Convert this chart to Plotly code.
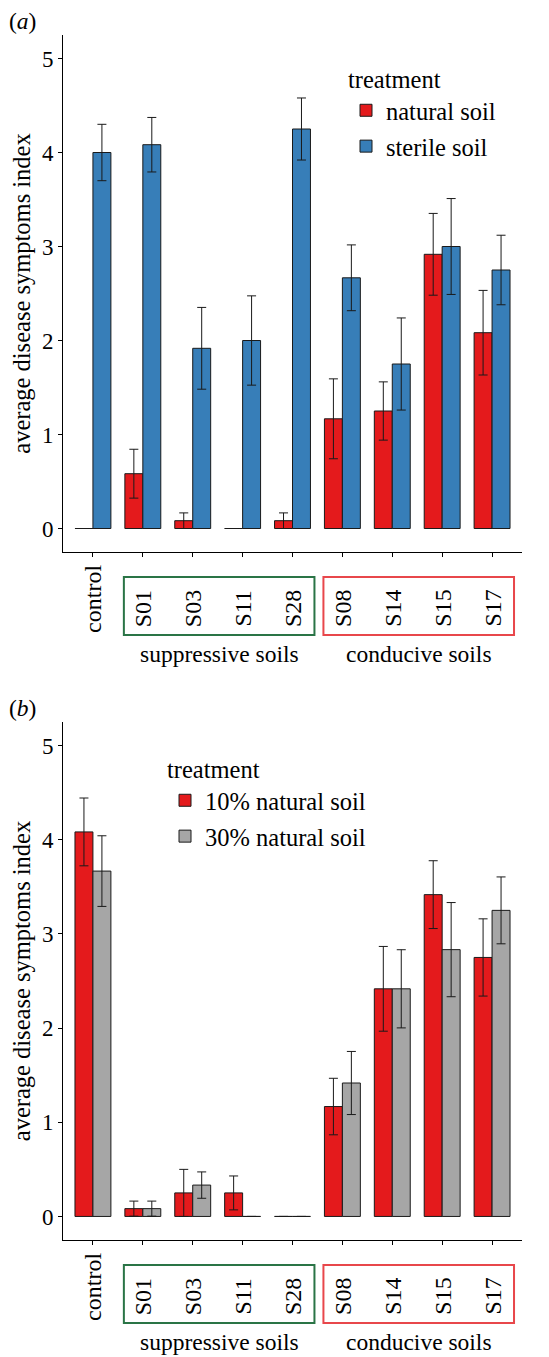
import plotly.graph_objects as go

W, H = 549, 1357
OFF = 8  # the page body adds an 8px margin; positions below are page pixels

categories = ["control", "S01", "S03", "S11", "S28", "S08", "S14", "S15", "S17"]

# panel (a)
a_natural = [0, 0.583, 0.083, 0, 0.083, 1.167, 1.25, 2.917, 2.083]
a_natural_err = [0, 0.26, 0.083, 0, 0.083, 0.425, 0.31, 0.435, 0.45]
a_sterile = [4.0, 4.083, 1.917, 2.0, 4.25, 2.667, 1.75, 3.0, 2.75]
a_sterile_err = [0.30, 0.29, 0.435, 0.475, 0.33, 0.35, 0.49, 0.51, 0.37]

# panel (b)
b_10 = [4.083, 0.083, 0.25, 0.25, 0, 1.167, 2.417, 3.417, 2.75]
b_10_err = [0.36, 0.08, 0.25, 0.18, 0, 0.30, 0.45, 0.36, 0.41]
b_30 = [3.667, 0.083, 0.333, 0, 0, 1.417, 2.417, 2.833, 3.25]
b_30_err = [0.375, 0.08, 0.14, 0, 0, 0.335, 0.415, 0.5, 0.355]

suppressive = ["S01", "S03", "S11", "S28"]
conducive = ["S08", "S14", "S15", "S17"]

RED = "#E41A1C"
BLUE = "#377EB8"
GREY = "#A6A6A6"
FONT = '"Liberation Serif", "Times New Roman", Times, serif'


def f(size):
    return dict(family=FONT, size=size, color="black")


def py(px):
    return 1 - (px - OFF) / H


def px_x(px):
    return (px - OFF) / W


fig = go.Figure()


def add_bar(y, err, name, color, xa, ya, legend):
    fig.add_trace(go.Bar(
        x=categories, y=y, name=name, legendgroup=name,
        marker=dict(color=color, line=dict(color="#1a1a1a", width=1)),
        error_y=dict(type="data", array=err, visible=True, color="#1a1a1a",
                     thickness=1, width=4.5),
        xaxis=xa, yaxis=ya, legend=legend,
    ))


add_bar(a_natural, a_natural_err, "natural soil", RED, "x", "y", "legend")
add_bar(a_sterile, a_sterile_err, "sterile soil", BLUE, "x", "y", "legend")
add_bar(b_10, b_10_err, "10% natural soil", RED, "x2", "y2", "legend2")
add_bar(b_30, b_30_err, "30% natural soil", GREY, "x2", "y2", "legend2")

xdom = [px_x(63), px_x(522)]
panels = [
    dict(top=35, bottom=552, xa="xaxis", ya="yaxis", xr="x", label="(<i>a</i>)", label_y=21),
    dict(top=722, bottom=1240, xa="xaxis2", ya="yaxis2", xr="x2", label="(<i>b</i>)", label_y=708),
]

axis_common = dict(showline=True, linecolor="black", linewidth=1, ticks="outside",
                   ticklen=4, tickcolor="black", showgrid=False, zeroline=False,
                   tickfont=f(23))

annotations = []
shapes = []
for i, p in enumerate(panels):
    ydom = [py(p["bottom"]), py(p["top"])]
    fig.update_layout({
        p["xa"]: dict(domain=xdom, range=[-0.6, len(categories) - 0.4],
                      showticklabels=False, anchor=p["ya"].replace("axis", ""),
                      categoryorder="array", categoryarray=categories, **axis_common),
        p["ya"]: dict(domain=ydom, range=[-0.25, 5.25], tickvals=[0, 1, 2, 3, 4, 5],
                      anchor=p["xa"].replace("axis", ""),
                      title=dict(text="average disease symptoms index", font=f(24.5),
                                 standoff=11),
                      **axis_common),
    })
    axb = p["bottom"]
    # category labels (rotated)
    for c in categories:
        if c == "control":
            annotations.append(dict(x=c, xref=p["xr"], y=py(axb + 12), yref="paper",
                                    text=c, textangle=-90, showarrow=False,
                                    xanchor="center", yanchor="top", borderpad=0,
                                    font=f(24)))
        else:
            annotations.append(dict(x=c, xref=p["xr"], y=py(axb + 76), yref="paper",
                                    text=c, textangle=-90, showarrow=False,
                                    xanchor="center", yanchor="bottom", borderpad=0,
                                    font=f(24)))
    # group boxes
    for grp, col, lab in [(suppressive, "#2A7446", "suppressive soils"),
                          (conducive, "#E8474B", "conducive soils")]:
        i0 = categories.index(grp[0])
        i1 = categories.index(grp[-1])
        shapes.append(dict(type="rect", xref=p["xr"], yref="paper",
                           x0=i0 - 0.38, x1=i1 + 0.44,
                           y0=py(axb + 83), y1=py(axb + 25),
                           line=dict(color=col, width=2)))
        annotations.append(dict(x=(i0 + i1) / 2 + 0.03, xref=p["xr"], y=py(axb + 102),
                                yref="paper", text=lab, showarrow=False,
                                xanchor="center", yanchor="middle", borderpad=0,
                                font=f(23.5)))
    annotations.append(dict(x=px_x(OFF), xref="paper", y=py(p["label_y"]), yref="paper",
                            text=p["label"], showarrow=False, xanchor="left",
                            yanchor="middle", borderpad=0, font=f(23.5)))

fig.update_layout(
    width=W, height=H,
    margin=dict(l=0, r=0, t=0, b=0),
    paper_bgcolor="white", plot_bgcolor="white",
    barmode="group", bargap=0.28, bargroupgap=0,
    font=f(23),
    legend=dict(title=dict(text="treatment", font=f(24.5)), font=f(24.5),
                x=px_x(346), xanchor="left", y=py(56), yanchor="top",
                tracegroupgap=1, bgcolor="rgba(0,0,0,0)"),
    legend2=dict(title=dict(text="treatment", font=f(24.5)), font=f(24.5),
                 x=px_x(165), xanchor="left", y=py(746), yanchor="top",
                 tracegroupgap=1, bgcolor="rgba(0,0,0,0)"),
    annotations=annotations,
    shapes=shapes,
)

fig.write_html("out.html")
